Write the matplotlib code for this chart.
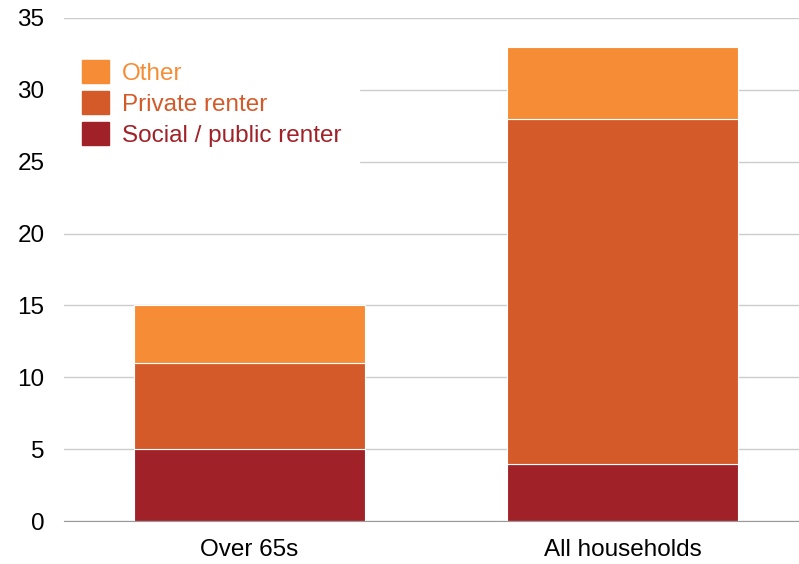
import matplotlib
matplotlib.use("Agg")
import numpy as np
import matplotlib.pyplot as plt
from matplotlib.patches import Patch

plt.rcParams['font.family'] = ['Liberation Sans', 'DejaVu Sans']

categories = ["Over 65s", "All households"]
social = [5, 4]
private = [6, 24]
other = [4, 5]

c_social = '#A02128'
c_private = '#D45A2A'
c_other = '#F68D36'

fig = plt.figure(figsize=(7.99, 5.64), dpi=100)
ax = fig.add_axes([64 / 799, 43 / 564, 735 / 799, 503 / 564])

x = np.arange(len(categories))
w = 0.62
ax.bar(x, social, w, color=c_social, edgecolor='white', linewidth=0.8, zorder=3)
ax.bar(x, private, w, bottom=social, color=c_private, edgecolor='white', linewidth=0.8, zorder=3)
bottom2 = np.array(social) + np.array(private)
ax.bar(x, other, w, bottom=bottom2, color=c_other, edgecolor='white', linewidth=0.8, zorder=3)

ax.set_ylim(0, 35)
ax.set_xlim(-0.497, 1.473)
ax.set_yticks(range(0, 36, 5))
ax.set_xticks(x)
ax.set_xticklabels(categories)
ax.tick_params(length=0, labelsize=17.5, colors='black')
ax.tick_params(axis='y', pad=14)
ax.tick_params(axis='x', pad=13)
ax.yaxis.grid(True, color='#cccccc', linewidth=1, zorder=0)
ax.set_axisbelow(True)
for s in ['top', 'right', 'left']:
    ax.spines[s].set_visible(False)
ax.spines['bottom'].set_color('#999999')
ax.spines['bottom'].set_zorder(4)

handles = [Patch(color=c_other, label='Other'),
           Patch(color=c_private, label='Private renter'),
           Patch(color=c_social, label='Social / public renter')]
leg = ax.legend(handles=handles, loc='upper left', bbox_to_anchor=(0.0, 0.952),
                frameon=True, fontsize=17.5, handlelength=1.11, handleheight=1.05,
                handletextpad=0.53, labelspacing=0.27, borderpad=0.74, fancybox=False,
                borderaxespad=0)
leg.get_frame().set_edgecolor('white')
leg.get_frame().set_facecolor('white')
leg.get_frame().set_alpha(1)
leg.set_zorder(5)
for t, c in zip(leg.get_texts(), [c_other, c_private, c_social]):
    t.set_color(c)

fig.savefig("out.png", dpi=100)
